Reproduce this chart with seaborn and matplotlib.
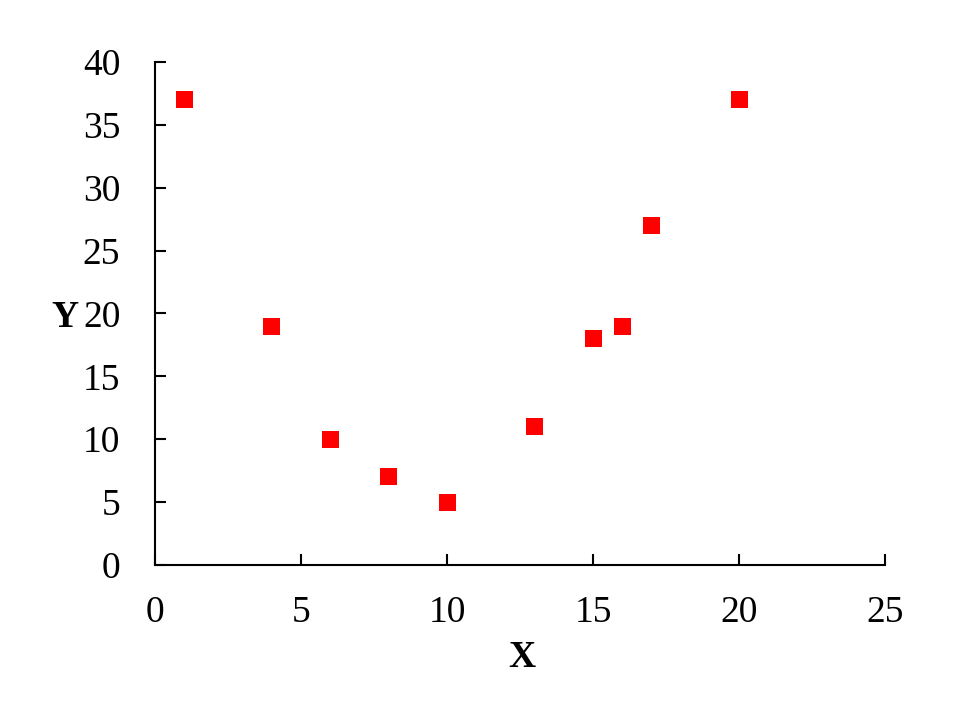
import matplotlib
matplotlib.use("Agg")
import matplotlib.pyplot as plt
import seaborn as sns
import pandas as pd

x_vals = [1, 4, 6, 8, 10, 13, 15, 16, 17, 20]
y_vals = [37, 19, 10, 7, 5, 11, 18, 19, 27, 37]
x_ticks = [0, 5, 10, 15, 20, 25]
y_ticks = [0, 5, 10, 15, 20, 25, 30, 35, 40]

sns.set_style("ticks")
plt.rcParams['font.family'] = ['Liberation Serif', 'DejaVu Serif']

df = pd.DataFrame({'X': x_vals, 'Y': y_vals})

fig = plt.figure(figsize=(9.6, 7.2), dpi=100)
ax = fig.add_axes([0.1615, 0.2153, 0.7604, 0.6986])
sns.scatterplot(data=df, x='X', y='Y', ax=ax, marker='s', s=150,
                color='#ff0000', edgecolor='none', linewidth=0)

ax.set_xlim(0, 25)
ax.set_ylim(0, 40)
ax.set_xticks(x_ticks)
ax.set_yticks(y_ticks)
sns.despine(ax=ax)
for side in ['left', 'bottom']:
    ax.spines[side].set_linewidth(1.5)
    ax.spines[side].set_color('black')
ax.tick_params(axis='both', direction='in', length=8, width=1.5,
               labelsize=27, colors='black')
ax.tick_params(axis='x', pad=22)
ax.tick_params(axis='y', pad=25)

ax.set_xlabel('X', fontsize=27, fontweight='bold', color='black',
              va='center', ha='center')
ax.set_ylabel('Y', fontsize=27, fontweight='bold', color='black',
              rotation=0, va='center', ha='center')
ax.yaxis.set_label_coords(-0.123, 0.493)
ax.xaxis.set_label_coords(0.502, -0.183)

fig.savefig('out.png', dpi=100)
